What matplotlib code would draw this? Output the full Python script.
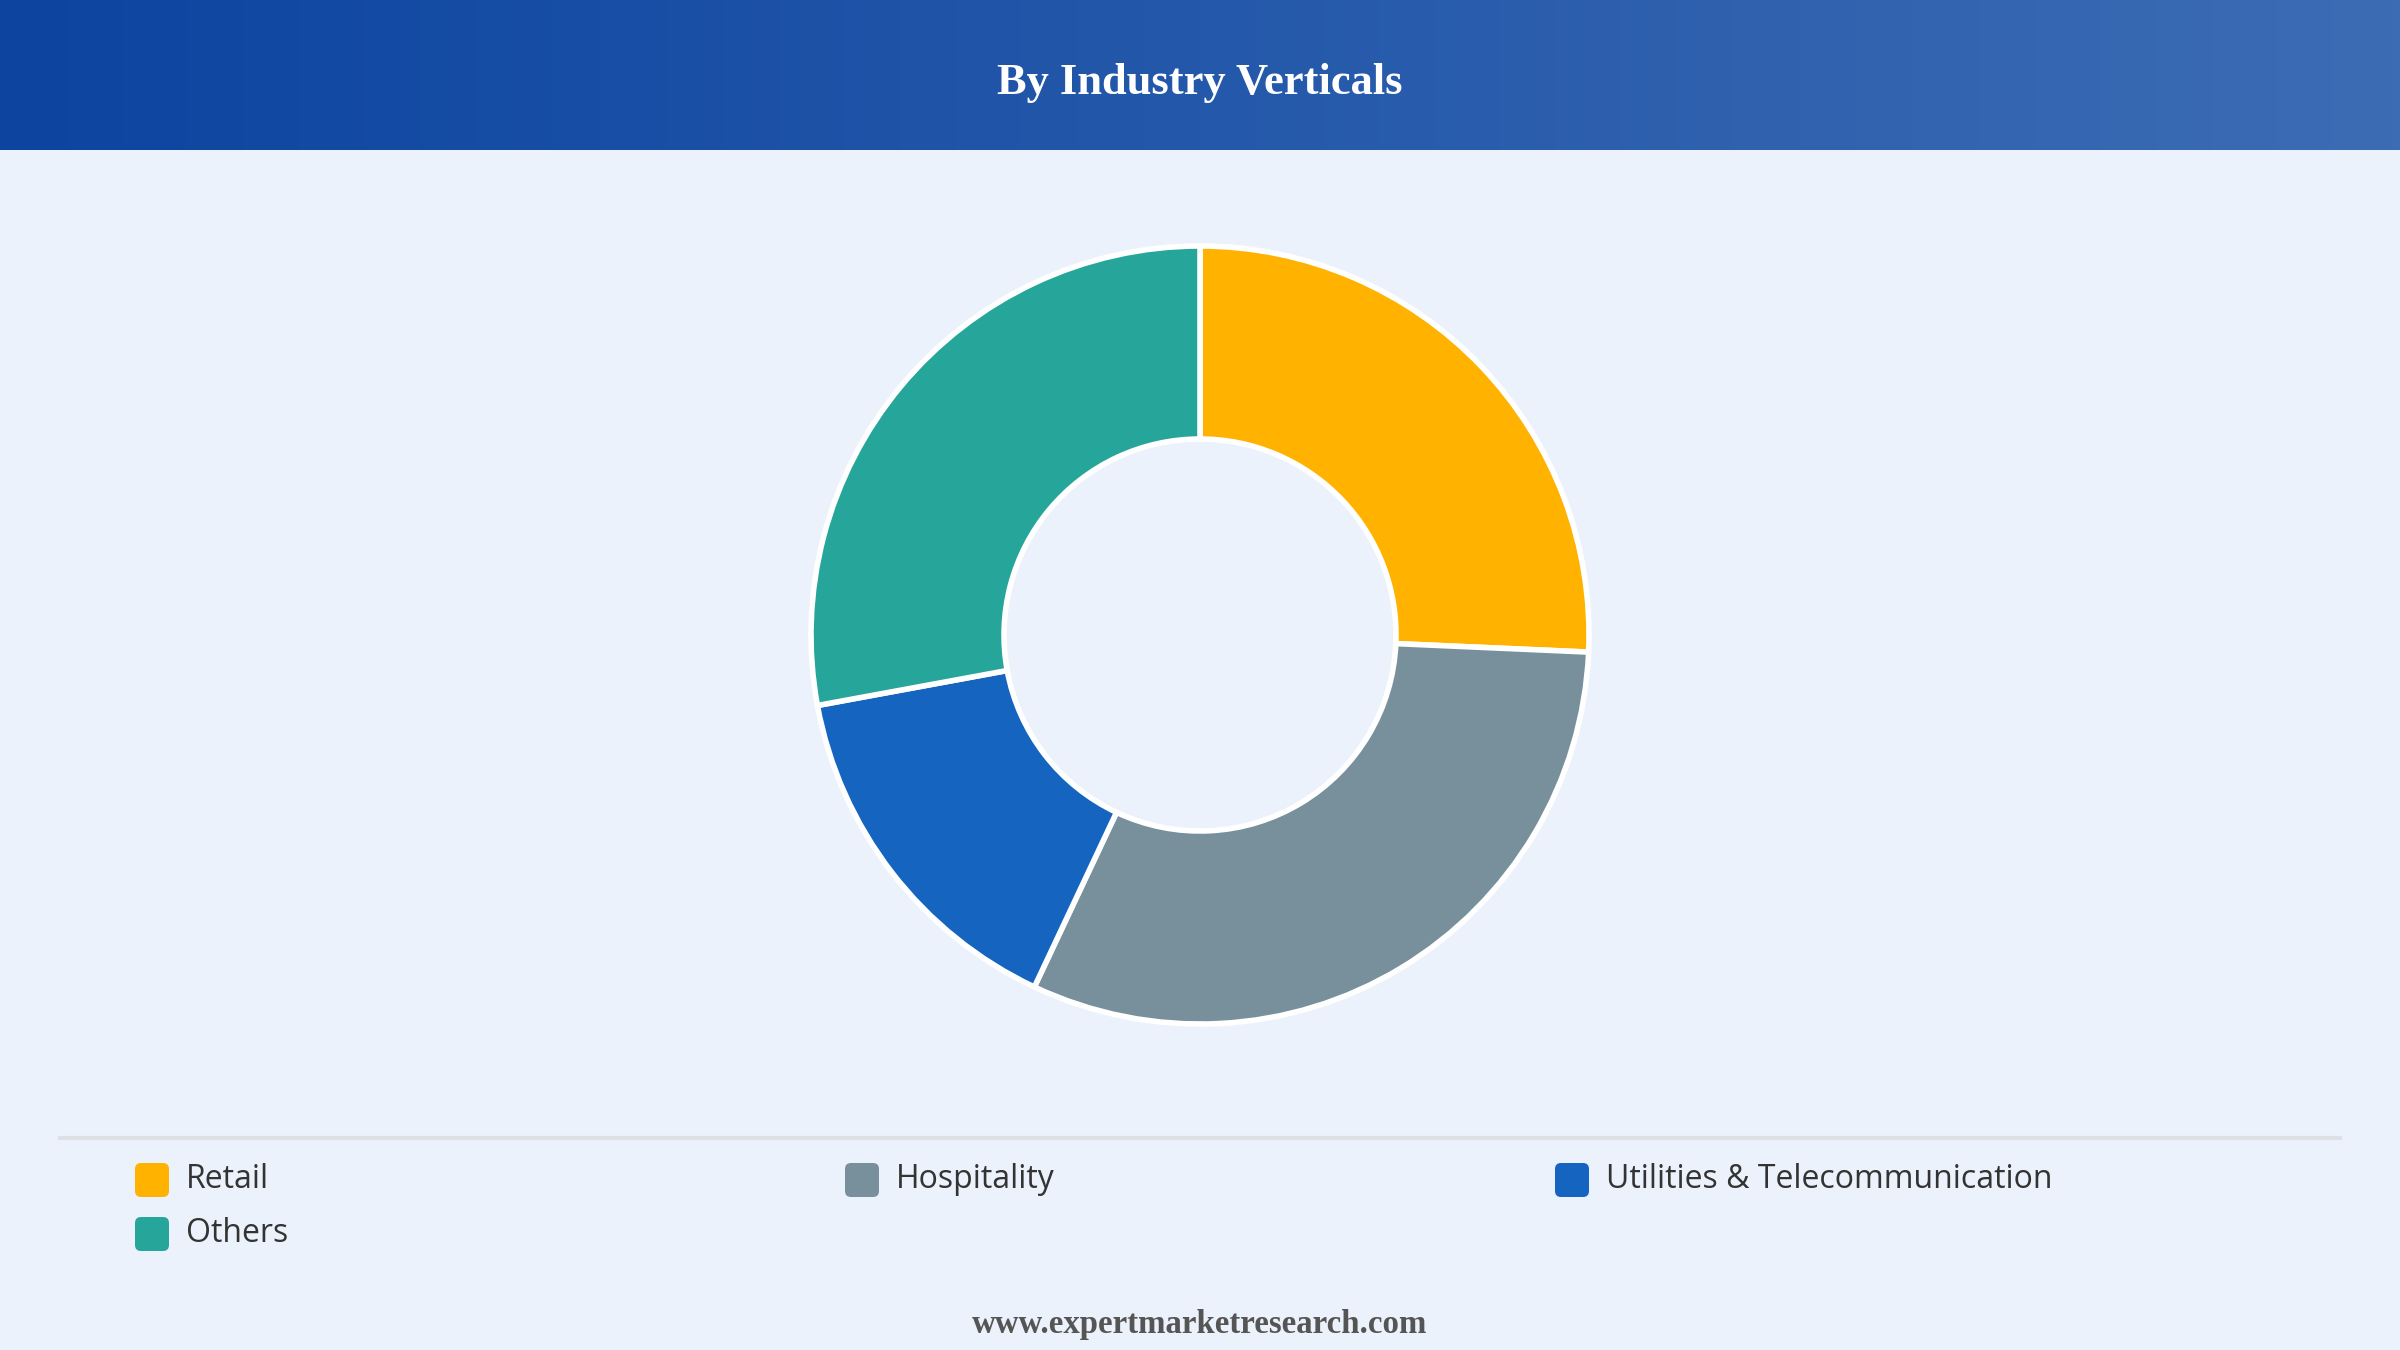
import matplotlib.pyplot as plt
from matplotlib.patches import FancyBboxPatch
import numpy as np

labels = ['Retail', 'Hospitality', 'Utilities & Telecommunication', 'Others']
shares = [25.7, 31.3, 15.1, 27.9]
colors = ['#FFB300', '#78909C', '#1565C0', '#26A69A']

title = 'By Industry Verticals'
footer = 'www.expertmarketresearch.com'

W, H = 2400, 1350
fig = plt.figure(figsize=(24, 13.5), dpi=100)
fig.patch.set_facecolor('#EBF2FB')
ax = fig.add_axes([0, 0, 1, 1])
ax.set_xlim(0, W)
ax.set_ylim(0, H)
ax.set_aspect('equal')
ax.axis('off')

# header band with horizontal gradient
grad = np.linspace(0, 1, 256).reshape(1, -1)
c0 = np.array([12, 68, 160]) / 255
c1 = np.array([60, 108, 180]) / 255
img = c0[None, None, :] * (1 - grad[..., None]) + c1[None, None, :] * grad[..., None]
ax.imshow(img, extent=(0, W, H - 150, H), aspect='auto', zorder=0)
ax.text(W / 2, H - 83, title, ha='center', va='center', color='white',
        fontsize=32, fontweight='bold', family='Liberation Serif')

# donut
ax.pie(shares, colors=colors, startangle=90, counterclock=False,
       center=(1200, H - 635), radius=389,
       wedgeprops=dict(width=193, edgecolor='white', linewidth=4))
ax.set_xlim(0, W)
ax.set_ylim(0, H)

# separator
ax.plot([60, 2340], [H - 1138, H - 1138], color='#DDE1E5', lw=3)

# legend
for i, (lab, col) in enumerate(zip(labels, colors)):
    x = 135 + (i % 3) * 710
    y = H - (1180 + (i // 3) * 54)
    ax.add_patch(FancyBboxPatch((x, y - 17), 34, 34,
                                boxstyle='round,pad=0,rounding_size=6',
                                facecolor=col, edgecolor='none'))
    ax.text(x + 51, y, lab, ha='left', va='center', fontsize=23,
            color='#333333', family='Open Sans')

ax.text(W / 2, H - 1324, footer, ha='center', va='center', color='#555555',
        fontsize=23.7, fontweight='bold', family='Liberation Serif')

fig.savefig('out.png', dpi=100, facecolor=fig.get_facecolor())
